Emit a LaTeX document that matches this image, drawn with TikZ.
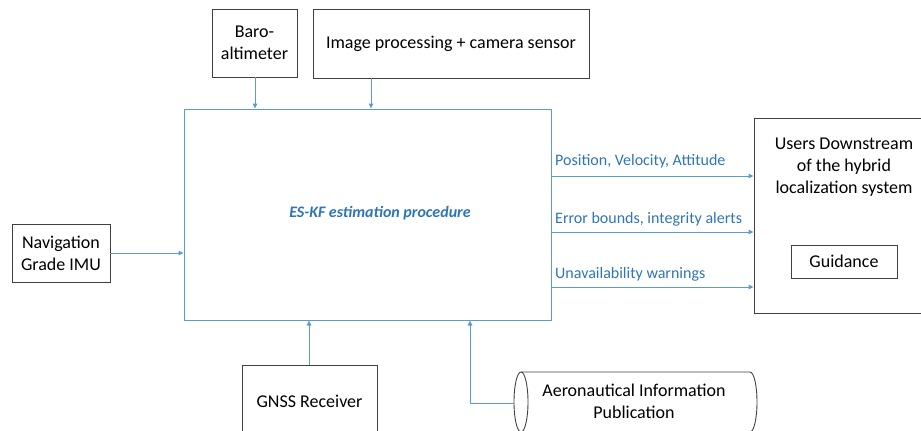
\documentclass[tikz,border=0pt]{standalone}
\usepackage{fontspec}
\setmainfont{Carlito}
\usetikzlibrary{arrows.meta}
\definecolor{flowblue}{HTML}{5B9BD5}
\definecolor{textblue}{HTML}{2E75B6}
\definecolor{boxgray}{HTML}{404040}
\begin{document}
\begin{tikzpicture}[x=1pt,y=-1pt,
  box/.style={draw=boxgray,line width=0.9pt,fill=white,inner sep=2pt,align=center,
    font=\fontsize{18}{22}\selectfont},
  txt/.style={inner sep=0pt,align=center,font=\fontsize{18}{22}\selectfont},
  flow/.style={draw=flowblue,line width=1pt,-{Triangle[length=5pt,width=4.5pt]}},
  lbl/.style={inner sep=0pt,anchor=west,text=textblue,font=\fontsize{16}{19}\selectfont}]
\useasboundingbox (0,0) rectangle (921,431);
\clip (0,0) rectangle (921,431);

% estimator block
\node[draw=flowblue,line width=1pt,minimum width=367pt,minimum height=211pt] (main) at (367.5,214.5) {};
\node[txt,text=textblue,font=\fontsize{16}{19}\selectfont\bfseries\itshape] (title) at (380,213) {ES-KF estimation procedure};

% sensors
\node[box,minimum width=85pt,minimum height=68pt] (baro) at (254.5,43) {Baro-\\altimeter};
\node[box,minimum width=276pt,minimum height=69pt] (cam) at (451,43.5) {Image processing + camera sensor};
\node[box,minimum width=98pt,minimum height=58pt] (imu) at (61,253) {Navigation\\Grade IMU};
\node[box,minimum width=135pt,minimum height=72pt] (gnss) at (309.5,401) {GNSS Receiver};

% downstream users
\node[box,minimum width=175pt,minimum height=195pt] (users) at (841.5,215.5) {};
\node[txt] (userstxt) at (844,167) {Users Downstream\\of the hybrid\\localization system};
\node[box,minimum width=106pt,minimum height=33pt] (guid) at (844,261.5) {Guidance};

% aeronautical database (cylinder lying on its side)
\draw[boxgray,line width=0.9pt,fill=white]
  (521,372) -- (750,372) arc[start angle=-90,end angle=90,x radius=7,y radius=30]
  -- (521,432);
\draw[boxgray,line width=0.9pt,fill=white] (521,402) ellipse[x radius=7,y radius=30];
\node[txt] (aip) at (634,401) {Aeronautical Information\\Publication};
\coordinate (aipin) at (514,403);
\coordinate (aipx) at (470,403);

% inputs
\draw[flow] (baro.south -| 255,0) -- (main.north -| 255,0);
\draw[flow] (cam.south -| 371,0) -- (main.north -| 371,0);
\draw[flow] (imu.east) -- (main.west |- imu.east);
\draw[flow] (gnss.north -| 309,0) -- (main.south -| 309,0);
\draw[flow] (aipin) -- (aipx) -- (main.south -| aipx);

% outputs
\draw[flow] (main.east |- 0,176) -- (users.west |- 0,176);
\draw[flow] (main.east |- 0,232) -- (users.west |- 0,232);
\draw[flow] (main.east |- 0,287) -- (users.west |- 0,287);
\node[lbl] (l1) at (555,161) {Position, Velocity, Attitude};
\node[lbl] (l2) at (555,219) {Error bounds, integrity alerts};
\node[lbl] (l3) at (555,274) {Unavailability warnings};
\end{tikzpicture}
\end{document}
